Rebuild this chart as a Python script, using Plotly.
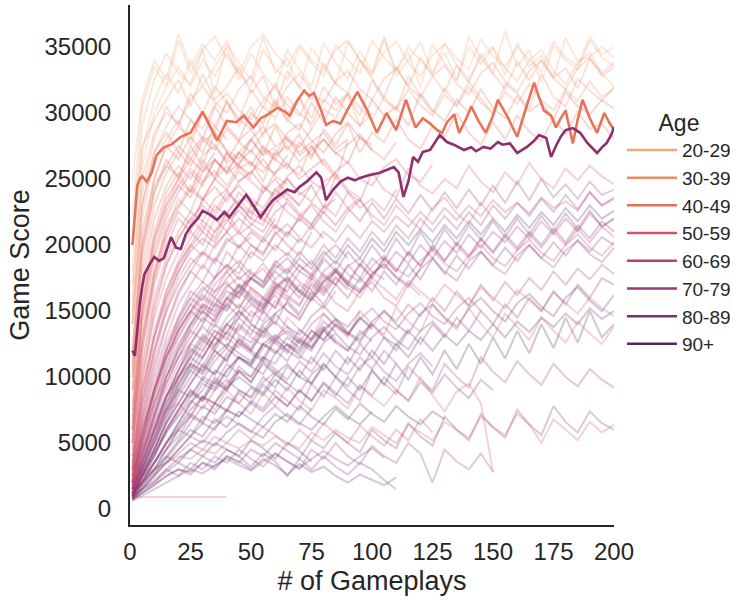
import plotly.graph_objects as go

# ---------------- data ----------------
age_groups = ["20-29", "30-39", "40-49", "50-59", "60-69", "70-79", "80-89", "90+"]
age_colors = ["#efa97b", "#eb8c6b", "#e56e5a", "#d5546a", "#b8406e", "#963872", "#773071", "#4f2a5e"]

# gameplay grid used by the background players (one value every 5 gameplays)
gp_grid = [1] + list(range(5, 201, 5))

scores_20s = [
    [22000, 30500, 33500, 32000, 35500, 33000, 34800, 31500, 35200, 33800, 32500, 35800, 33000, 34200, 31800, 35000, 33500, 32200, 35400, 34000, 32800, 35600, 33200, 34600, 31900, 35200, 33800, 32400, 35800, 34100, 33000, 36200, 33500, 34800, 32300, 35100, 34000, 33300, 35500, 34200, 33600],
    [25000, 31000, 34000, 32500, 36000, 33500, 35200, 34000, 35500, 33000],
    [18000, 27000, 31000, 33000, 31500, 34000, 32000, 33500, 35000, 32500, 34500, 33000, 31800, 34800, 33300, 32000, 35300, 33800, 32600, 34700, 33100, 35800, 32800, 34000, 35400, 33000, 34600, 32500, 35000, 33700, 34900, 32900, 35300, 33500, 34400, 32700, 35700, 33900, 34300, 35000, 34200],
    [16000, 26000, 30000, 32000, 33500, 32000, 34000, 32800, 34500, 33000, 32000, 34800, 33400, 32500, 35000, 33800, 32800, 35200, 34000, 33000, 35500, 34200, 33200, 35000, 34000, 33000, 35300, 34100, 33300, 35600, 34300, 33500, 35000, 34000, 33200, 35400, 34200, 33600, 35800, 34400, 35000],
    [20000, 29000, 32500, 34500, 33000, 32200, 34800, 35800, 34200, 33000, 35000, 36000, 34500, 33500, 35200, 34000, 33200, 34800, 35500, 34000, 33000, 34600, 35400, 33800, 32800, 34400, 35200, 33600, 32600, 34200, 35000, 33400, 32400, 34000, 34800, 33200, 32200, 33800, 34600, 33000, 32000],
]
scores_30s = [
    [15000, 24000, 28000, 30500, 29000, 31500, 30000, 32000, 30800, 29500, 31800, 30400, 32300, 30000, 31200, 29600, 32000, 30700, 31400, 29800, 32500, 31000, 30200, 32800, 31300, 30000, 31900, 30600, 32400, 31100, 29900, 32200, 31500, 30300, 33000, 31200, 30500, 32600, 31700, 30900, 32000],
    [20000, 27500, 29500, 31000, 32500, 30500, 33000, 31000, 32000, 33500, 31500, 32800, 30500, 33200, 32000, 31000, 33800, 32200, 31500, 34000, 32600, 31200, 33500, 32000, 34200, 32800, 31600, 33600, 32300, 34500, 33000, 31800, 33900, 32500, 34000, 32700, 33400, 31900, 34100, 33000, 33800],
    [12000, 22000, 26500, 28000, 29500, 27500, 30000, 28500, 31000, 29000, 30500, 28200, 30800, 29400, 31200, 28800, 30300, 29600, 31500, 29000, 30000],
    [10000, 20000, 25000, 27500, 29000, 28000, 30000, 29000, 30800, 29500, 28800, 30500, 29600, 31200, 30000, 29200, 31000, 30200, 31500, 30400, 29500, 31200, 30300, 31800, 30600, 29800, 31400, 30500, 32000, 30800, 30000, 31600, 30700, 32200, 31000, 30200, 31800, 30900, 32400, 31200, 31800],
    [14000, 23000, 27000, 29000, 30500, 29500, 28800, 30600, 31500, 30200, 29500, 31000, 32000, 30600, 29800, 31500],
    [17000, 25000, 28500, 30000, 29200, 31000, 32000, 30800, 30000, 31800, 32800, 31200, 30400, 32000, 33000, 31600, 30800, 32400, 33200, 31800, 31000, 32600, 33400, 32000, 31200, 32800, 33600, 32200, 31400, 33000, 33800, 32400, 31600, 33200, 34000, 32600, 31800, 33400, 34200, 32800, 33500],
]
scores_40s = [
    [10000, 19000, 24000, 26500, 25000, 27500, 26000, 28500, 27000, 26000, 28000, 26800, 29000, 27200, 28400, 26500, 28800, 27600, 29200, 27000, 28500, 27800, 29500, 28000, 27300, 29000, 28200, 30000, 28500, 27600, 29300, 28000, 29800, 28600, 27900, 29600, 28400, 30100, 28800, 29200, 28000],
    [8000, 16000, 21000, 24000, 25500, 24000, 26500, 25000, 27000, 25800, 26300, 24800, 27200, 26000, 25300, 27500, 26200, 25000, 27800],
    [14000, 23000, 27000, 28500, 27000, 29500, 28000, 30500, 29000, 28000, 30000, 29200, 31000, 29500, 28700, 30800, 29300, 31200, 30000, 29000, 31000, 29800, 30500, 29000, 31500, 30200, 29400, 31000, 30000, 31800, 30400, 29600, 31300, 30100, 30800, 29500, 31600, 30500, 29900, 31000, 30300],
    [7000, 15000, 20000, 23000, 25000, 24000, 26000, 25200, 27000, 26000, 25300, 27200, 26400, 28000, 26800, 27500, 26000],
    [9000, 18000, 23000, 25500, 27000, 26000, 27800, 28500, 27200, 26500, 28000, 29000, 27500],
    [12000, 20000, 24500, 26000, 25200, 27000, 28200, 27600, 26400, 27900, 28800, 27300, 26800, 28500, 29200, 27900, 27000, 28400, 29300, 28100, 27600],
    [6000, 13000, 18000, 21500, 23000, 24500, 23500, 25000, 26000, 24800, 25500, 26500, 25200, 24600],
    [11000, 21000, 25000, 27500, 26500, 28200, 27000, 29000, 28000],
    [5000, 12000, 17500, 21000, 23500, 22500, 24800, 25600, 24500, 26000, 25000],
    [9000, 17000, 22000, 24500, 26000, 25000, 26800, 27500, 26200, 27000, 28000, 26800, 27400, 28200, 27000, 27800, 28500, 27300, 28000],
    [7500, 15500, 20500, 23000, 24500, 25800, 24800, 26400, 25600, 27000, 26200, 25500, 26800, 27500, 26300, 27200, 28000, 26900, 27600, 28400, 27200, 26500, 27800],
    [10500, 19500, 24000, 26000, 27500, 26500, 28000, 27200, 28800, 27800, 27000, 28500, 29200, 28000, 27400, 28800],
]
scores_50s = [
    [5000, 12000, 17000, 20000, 22000, 21000, 23500, 22500, 24000, 23000, 22000, 24500, 23500, 25000, 23800, 24500, 22800, 25200, 24000, 23300, 25500, 24200, 23600, 25800, 24500, 23900, 25000, 24300, 26000, 24800, 24000, 25500, 24600, 26200, 25000, 24300, 25800, 24900, 26000, 25200, 24600],
    [4000, 10000, 14500, 17500, 19500, 21000, 20000, 22000, 21000, 23000, 22000, 21500, 23500, 22500, 21800, 23200, 22400, 24000, 22800, 23500, 22000],
    [2000, 4500, 6000, 7500, 8000, 7000, 8500, 7500, 9000, 8000, 7200, 8800, 7800, 9200, 8200, 7500, 9000, 8400, 7600, 9300, 8500, 7800, 9000, 8200, 10000, 8600, 7400, 8900, 9500, 8000, 2800],
    [1500, 2500, 3000, 3500, 4000, 3800, 4500, 4200, 5000, 4600, 5200, 4800, 5500, 5000, 4600, 5800, 5200, 6000, 5400, 5000, 6200, 5600, 5000, 6400, 5800, 5200, 6600, 6000, 5400, 7000, 6200, 5600, 7200, 6400, 5000, 6800, 6000, 5200, 6600, 5800, 6400],
    [900, 900, 900, 950, 900, 900, 900, 900, 900],
    [3000, 8000, 13000, 16000, 18500, 20000, 21500, 20500, 22500, 21000, 23000, 22000, 21200, 23500, 22400, 21600, 23000, 22200, 24000, 22800, 23500, 22600, 24200],
    [2500, 6000, 9000, 11500, 13000, 14500, 15500, 14800, 16000, 15200, 16500, 15800, 17000, 16200, 15500, 17200, 16400, 17600, 16800, 16000, 17500, 16700, 15900, 17300, 16500, 15700, 17000, 16200, 15400, 16800, 16000, 15200, 16600, 15800, 15000, 16400, 15600, 14800, 16000, 15200, 14600],
    [6000, 14000, 19000, 22000, 24000, 25500, 24500, 26500, 25500, 27000, 26000, 27500, 26500, 25800, 27800, 26800, 28000, 27000, 26200, 28200, 27200],
    [4500, 11000, 16000, 19000, 21000, 22500, 21800, 23500, 24200, 23000, 22400, 24000, 25000, 23800, 23000, 24600],
    [3500, 9000, 13500, 16500, 18500, 20000, 19200, 21000, 22000, 20800, 21500, 22600, 21400, 20600, 22200, 23000, 21800, 21000, 22500, 23400, 22300, 21500, 23000, 22000, 21200, 22800, 23600, 22400, 21600, 23200, 22000],
    [2000, 5000, 8000, 10000, 11500, 12500, 12000, 13500, 13000, 12200, 14000, 13200, 12500, 14500, 13600, 12800, 14800, 13900, 13000, 15000, 14000, 13200, 15300, 14200, 13400, 15500, 14400, 13600, 15200, 14000, 13000, 14800, 13800, 12800, 14500, 13500, 12600, 14200, 13300, 12500, 13800],
    [3000, 9500, 15000, 18500, 20500, 22000, 21000, 23000, 22200, 24000, 23000, 22400, 24200, 23400],
    [2500, 7000, 11500, 15000, 17500, 19000, 18200, 20000, 21000, 19800, 20600],
    [6500, 15000, 20500, 23500, 25000, 26500, 25600, 27000],
    [5500, 13000, 18000, 21000, 22800, 24200, 23400, 25000, 24200, 25600, 24800, 24000, 25500, 26200, 25000, 25800, 26500, 25300],
    [4000, 10500, 15500, 18500, 20500, 22000, 23000, 22200, 23600, 24500, 23500, 22800, 24200, 25000, 24000, 23300, 24800, 25400, 24200, 23600],
    [3200, 8500, 13000, 16500, 18800, 20500, 21800, 21000, 22500, 23400, 22500, 21800, 23200, 24000, 23000],
    [5000, 12500, 17500, 20500, 22500, 21600, 23400, 24400, 23300, 24800, 25600, 24400, 23800, 25200, 26000, 24800, 24200, 25600, 26300, 25000, 24500, 25900, 26500, 25300, 24800, 26100],
    [6000, 14500, 19500, 22500, 24500, 23600, 25500, 26500, 25400, 26200, 27200, 26000, 25400, 26800],
]
scores_60s = [
    [2000, 5000, 8500, 11000, 13500, 15000, 16500, 17500, 18500, 17800, 19500, 18800, 20000, 19200, 20500, 19800, 21000, 20200, 21500, 20500, 21800, 21000, 22200, 21400, 22500, 21600, 22800, 21900, 23000, 22200, 23400, 22500, 23200, 22400, 23600, 22800, 23300, 22600, 24000, 23000, 23500],
    [1500, 3500, 6000, 8000, 10000, 11500, 13000, 12200, 14000, 13500, 15000, 14200, 15800, 15000, 14300, 16000, 15200, 16500],
    [3000, 7000, 11000, 14000, 16500, 18000, 17200, 19000, 18200, 20000, 19000, 20500, 19600, 21000, 20200, 21500, 20500],
    [1000, 2000, 3000, 3500, 4200, 5000, 4500, 5500, 5000, 6000, 5300, 6200, 5600, 4800, 6000, 5200, 6500, 5700, 5000, 6300, 5500, 4800, 6000, 5200, 6800, 5800],
    [2500, 6500, 10000, 13000, 15500, 17000, 18500, 17500, 19500, 18500, 20000, 19200, 21000, 20000, 19200, 21000],
    [1800, 4500, 7500, 10000, 12000, 13500, 15000, 14200, 16000, 15200, 16800, 16000, 15300, 17200, 16400, 17800, 16800, 18200, 17200, 18600, 17600, 19000, 18000, 19400, 18400, 19800, 18800, 20000, 19000, 20400, 19400, 20600, 19600, 20800, 19800, 21000, 20000, 21200, 20200, 21400, 20600],
    [2500, 6000, 9500, 12500, 14500, 16000, 15200, 17000, 18000, 16800, 17500, 18600, 17400],
    [1500, 4000, 6500, 9000, 11000, 12500, 13800, 13000, 14500, 15500, 14600, 15200, 16200, 15000, 14400, 16000, 16800, 15600, 15000, 16500, 17200, 16000, 15400, 17000, 16200],
    [3500, 9000, 13000, 16000, 18000, 19500, 20500, 19800, 21000, 22000, 21200, 20500, 22000],
    [2000, 5500, 9000, 12000, 14000, 15500, 14800, 16500, 17200, 16000, 17500, 18200, 17000, 16500, 18000, 18800, 17600, 17000, 18400, 19000, 18000, 17400],
    [1200, 3500, 6000, 8500, 10500, 12000, 11400, 13000, 12300, 13800, 13000, 12400],
    [2800, 7500, 12000, 15500, 18000, 19800, 21000, 20200, 21800, 22600, 21600, 21000, 22500, 23200, 22200, 21500, 22800, 23500],
    [2200, 6500, 10500, 13800, 16200, 18000, 19400, 18600, 20200, 21000, 20000, 19400, 20800, 21600, 20600],
    [2000, 5500, 9000, 12000, 14200, 16000, 17200, 16400, 18000, 18800, 17800, 17200, 18600, 19400, 18400, 17800, 19200, 20000, 19000],
    [1600, 4500, 7800, 10800, 13000, 14800, 16000, 15300, 16800, 17600, 16700, 16000, 17400, 18200, 17200, 16600, 18000, 18800, 17800, 17200, 18400, 19200, 18200, 17600, 18800, 19600, 18600, 18000, 19200, 20000, 19000, 18400, 19600, 20400, 19400, 18800, 20000, 20800, 19800, 19200, 20200],
]
scores_70s = [
    [1500, 3000, 5000, 7000, 9000, 10500, 12000, 13500, 12800, 14500, 15500, 14800, 16500, 15800, 17000, 16200, 17800, 17000, 18500, 17500, 19000, 18200, 19500, 18600, 20000, 19000, 20300, 19400, 20800, 19800, 21000, 20200, 21400, 20500, 21800, 20800, 22000, 21000, 22400, 21400, 22000],
    [1000, 2000, 3500, 4500, 6000, 7000, 8500, 8000, 9500, 10500, 10000, 11500, 11000, 12500, 12000, 13500, 12800, 14000, 13300, 14500, 13800, 15000, 14200, 15500, 14600, 16000, 15000, 16500, 15400, 17000, 15800, 17200, 16200, 17500, 16600, 18000, 17000, 18200, 17400, 18500, 17800],
    [2000, 4000, 6500, 8500, 10000, 11000, 10500, 12000, 11200, 12800, 12000, 13500, 12600, 11800, 13000, 12300, 13800, 12800, 12000, 13500, 12700],
    [1200, 2500, 3500, 5000, 6000, 5500, 7000, 6500, 7500, 7000, 8200, 7600, 9000, 8200, 7500, 9500, 8500, 10000, 9000, 8200, 10500, 9500, 8700, 10800, 9800, 9000, 11000, 10000, 9200, 11500, 10400, 9600, 11200, 10200, 9400, 11000, 10000, 9300, 10600, 9800, 9200],
    [800, 1500, 2200, 3000, 2500, 3500, 3000, 4000, 3500, 4500, 3800, 3200, 4200, 3600, 3000, 4500, 3800, 5000, 4000, 3400, 4800, 4000, 3500, 5000, 4200, 2000, 4500, 3600, 3000, 4200, 2800],
    [2500, 6000, 9000, 11500, 13500, 15000, 16200, 15500, 17000, 16300, 18000, 17200, 18800, 18000, 19500, 18500, 20000, 19000, 20500, 19500, 21000, 20000, 21500, 20500, 22000, 21000, 22200, 21200, 22500, 21500, 23000, 22000, 23200, 22200, 23500, 22500, 23800, 22700, 24000, 23000, 23600],
    [1500, 3500, 5500, 7500, 9000, 8500, 10000, 9500, 11000, 10200],
    [3000, 8000, 12000, 15000, 17000, 18500, 19500, 18800, 20500, 19800, 21000, 20200, 21500, 20800, 22000, 21200, 22500, 21500, 22800, 21800, 23200, 22000, 23500, 22400, 23800, 22600, 24000, 22800, 24200, 23000, 24500, 23200, 24800, 23400, 25000, 23600, 24600, 23500, 24800, 23800, 24200],
    [1000, 2500, 4500, 6500, 8000, 9500, 11000, 10200, 11800, 12800, 12000, 11400, 13000, 13800, 12800, 12200, 13500, 14300, 13300, 12600, 14000],
    [1800, 4500, 7000, 9500, 11500, 13000, 14500, 13800, 15500, 16500, 15600, 15000, 16800, 17500, 16500, 15800, 17200, 18000, 17000, 16400, 17800, 18500, 17500, 16800, 18200, 19000, 18000, 17300, 18800, 19500, 18400, 17800, 19200, 20000, 19000, 18300, 19600, 20300, 19300, 18700, 19800],
    [1200, 2800, 4200, 5800, 7000, 8200, 7600, 9000, 9800, 9000, 8400, 9600, 10400, 9500, 8800, 10200, 11000, 10000, 9300, 10800, 11500, 10400, 9700, 11000, 11800, 10800],
    [800, 1500, 2500, 3500, 4500, 5500, 5000, 6200, 7000, 6400, 5800, 7000, 7800, 7000, 6400, 7600],
    [1500, 4000, 7000, 9500, 11500, 13500, 12800, 14500, 15500, 14600, 16000, 15200, 16800, 16000, 15400, 17000, 16200, 17500, 16600],
    [900, 2200, 4000, 6000, 7500, 9000, 8400, 10000, 9200, 10800, 10000, 11500, 10600, 9800, 11200, 10400, 11800, 10800, 10200, 11500, 10600, 12000, 11000],
    [2200, 5500, 9000, 12000, 14500, 16500, 15800, 17500, 18500, 17400, 18200],
    [1500, 4000, 7000, 10000, 12000, 13800, 15000, 14200, 15800, 16800, 15800, 15200, 16600, 17400, 16400, 15800, 17200, 18000, 17000, 16400, 17600],
    [1800, 5000, 8500, 11500, 13800, 15500, 16800, 16000, 17500, 18400, 17400, 16800, 18200, 19000, 18000, 17400, 18800],
    [1300, 3200, 5500, 7800, 9800, 11500, 10800, 12400, 13400, 12600, 12000, 13400, 14200, 13200, 12600, 14000, 14800, 13800, 13200, 14400, 15200, 14200, 13600, 14800, 15600, 14600, 14000, 15200, 16000, 15000],
]
scores_80s = [
    [1500, 3000, 5000, 7500, 9500, 11000, 12500, 14000, 13200, 15000, 14200, 16000, 15200, 17000, 16000, 17500, 16500, 18000, 17000, 18500, 17500, 19000, 18000, 19500, 18400, 20000, 18800, 20200, 19200, 20500, 19500, 20800, 19800, 21000, 20000, 21300, 20200, 21500, 20500, 21800, 21000],
    [1000, 2000, 3000, 4500, 5500, 7000, 6500, 8000, 7500, 9000, 8500, 10000, 9200, 10800, 10000, 11500, 10500, 12000, 11000, 12500, 11500, 13000, 12000, 13500, 12500, 14000, 13000, 14500, 13500, 15000, 14000, 15500, 14500, 16000, 15000, 16500, 15500, 17000, 16000, 17500, 17000],
    [1200, 2200, 3500, 5000, 6500, 8000, 9500, 9000, 10500, 11500, 11000, 12500, 12000, 11200, 12800, 12200, 13500, 12600],
    [800, 1500, 2000, 2800, 3500, 3000, 4000, 3500, 4500, 4000, 3200, 4200, 3600, 2500, 3800, 3000, 4000, 3200, 2600, 3500, 3000, 2200, 1500],
    [2000, 5000, 8000, 10500, 12500, 14000, 15500, 15000, 16500, 16000, 17500, 16800, 18000, 17200, 18500, 17600, 19000, 18000, 19500, 18400, 20000, 18800, 20500, 19200, 21000, 19600, 21200, 20000, 21500, 20400, 21800, 20600, 22000, 20800, 22200, 21000, 22400, 21200, 22600, 21400, 22000],
    [700, 1200, 1800, 2500, 3000, 2600, 3500, 3000, 4000, 3500, 4500, 4000, 5000, 4400, 3800, 5200, 4600, 5800, 5000, 4300, 6000, 5200, 4600, 6500, 5500, 4800, 7000, 6000, 5200, 7200, 6200, 5400, 7500, 6400, 5600, 7800, 6600, 5800, 7400, 6500, 6000],
    [1000, 2500, 4000, 6000, 7500, 9000, 8200, 9800, 9000, 10500, 9600, 11200, 10400],
    [1200, 2800, 4500, 6500, 8500, 10000, 11500, 13000, 12200, 14000, 13200, 15000, 14000, 15800, 14800, 16500, 15500, 17000, 16000, 17500, 16500, 18000, 17000, 18500, 17400, 19000, 17800, 19200, 18200, 19500, 18500, 19800, 18800, 20000, 19000, 20200, 19200, 20400, 19500, 20600, 20000],
    [1000, 2500, 4000, 5800, 7200, 8500, 9800, 9200, 10500, 11500, 10800, 10200, 11800, 12500, 11600, 11000, 12600, 13300, 12300, 11700, 13000, 13800, 12800, 12100, 13500, 14200, 13200],
    [1500, 3500, 6000, 8500, 10000, 11500, 12800, 12000, 13500, 14500, 13600, 13000, 14600],
    [600, 1000, 1500, 2000, 2500, 3000, 2700, 3300, 3800, 3300, 2900, 3600, 4200, 3600, 3100, 3800, 4400, 3800, 3300, 4000, 4600, 3900],
    [1300, 3000, 5200, 7500, 9500, 11000, 10400, 12000, 11200, 13000, 12200, 13800, 12800, 12000, 13600, 12800, 14200, 13400],
    [800, 1800, 3000, 4500, 6000, 7200, 6600, 8000, 7400, 8800, 8000, 9400, 8600, 7800, 9000, 8200, 9600, 8800, 8000, 9400, 8600, 10000, 9000, 8200, 9600, 8800, 10200, 9200, 8400, 9800, 9000],
    [2000, 5500, 9000, 11500, 13500, 15000, 14200, 16000, 15200, 17000, 16200, 15500, 17200, 16400],
    [1200, 3500, 6000, 8500, 10500, 12200, 11500, 13000, 14000, 13200, 12600, 14000, 14800, 13800, 13200, 14600, 15400, 14400, 13800, 15000],
    [900, 2500, 4500, 6800, 8800, 10500, 9800, 11200, 12200, 11400, 10800, 12200, 13000, 12000, 11400, 12800, 13600, 12600, 12000, 13200, 14000, 13000, 12400, 13600],
    [1600, 4200, 7200, 10000, 12200, 14000, 15300, 14600, 16000, 17000, 16000, 15400, 16800, 17600, 16600, 16000, 17400, 18200, 17200, 16600, 17800, 18600, 17600, 17000, 18200],
]
scores_90s = [
    [1000, 2000, 3500, 5000, 6500, 8000, 9000, 10500, 10000, 11500, 11000, 12500, 11800, 13000, 12200, 13500, 12800, 14000, 13200, 14500, 13600],
    [800, 1500, 2500, 3500, 4500, 5500, 6500, 6000, 7500, 7000, 8000, 7400, 8500, 7800, 9000, 8200, 9500, 8600, 10000, 9000, 10500, 9400, 11000, 9800, 11500, 10200, 12000, 10600, 12500, 11000, 13000, 11400, 13500, 11800, 14000, 12200, 14500, 12600, 15000, 13000, 14000],
    [1500, 3500, 6000, 8500, 10500, 12500, 14000, 15500, 15000, 16500, 17500, 17000, 18500, 17800, 19000, 18200, 19500, 18600, 20000, 19000, 20500, 19500, 21000, 20000, 21200, 20200, 21500, 20500, 21800, 20800, 22000, 21000, 22300, 21300, 22500, 21500, 22800, 21800, 23000, 22000, 22600],
    [1200, 2000, 3000, 4000, 3500, 4500, 4000, 5000, 4500, 4000, 5200, 4600, 3800, 5000, 4400, 3600],
    [900, 1800, 2800, 4000, 5200, 6500, 7800, 7200, 8500, 8000, 9200, 8600, 9800, 9000, 10500, 9500, 11000, 10000, 11500, 10500, 12000, 11000, 12500, 11500, 13000, 12000, 13200, 12400, 13500, 12800, 14000, 13000, 14200, 13400, 14500, 13800, 14800, 14000, 15200, 14400, 15000],
    [700, 1200, 1800, 2500, 3000, 2800, 3500, 3200, 4000, 3600, 3000, 3800, 3300, 2600, 3400, 2800, 3200, 2500, 2000, 2600, 2200, 1800, 2400],
    [900, 2000, 3500, 5000, 6200, 7500, 8500, 8000, 9200, 10000, 9300, 8800, 10200, 11000, 10000, 9500, 10800],
    [700, 1300, 2000, 3000, 3800, 4500, 5200, 4800, 5800, 6500, 5900, 5400, 6600, 7200, 6500, 6000, 7000, 7800, 7000, 6400, 7400],
    [1100, 2500, 4500, 6500, 8000, 9500, 10800, 10200, 11500, 12500, 11800, 11200, 12800, 13500, 12600, 12000, 13600, 14400, 13400, 12800, 14200, 15000, 14000, 13300, 14800, 15500, 14500, 13800, 15200, 16000, 15000, 14200, 15600, 16300, 15300, 14600, 16000, 16800, 15800, 15000, 16200],
    [1000, 2500, 4200, 6000, 7500, 8800, 8200, 9600, 9000, 10400, 9600, 11000, 10200, 9500],
    [800, 1600, 2600, 3800, 5000, 6000, 5500, 6800, 6200, 7400, 6800, 6200, 7200, 6600, 7800, 7000, 6400, 7600, 6800, 8000, 7200, 6600, 7800, 7000, 6400, 7400, 6800],
    [1000, 3000, 5500, 8000, 10000, 11800, 13200, 12400, 14000, 15000, 14000, 13400, 14800, 15600, 14600],
    [1100, 2800, 5000, 7200, 9200, 10800, 10200, 11600, 12500, 11800, 11200, 12500, 13200, 12400, 11800, 13000, 13800],
]

# two highlighted players
orange_x = [1, 2, 3, 4, 5, 7, 9, 11, 14, 17, 21, 25, 28, 30, 33, 36, 40, 44, 47, 51,
            54, 57, 61, 64, 66, 69, 72, 74, 76, 79, 81, 84, 87, 90, 94, 98, 102, 106, 110, 114,
            118, 121, 124, 127, 129, 131, 134, 136, 139, 141, 144, 147, 150, 152, 156, 160, 163, 167, 169, 171,
            174, 176, 178, 180, 183, 185, 187, 190, 193, 196, 198, 200]
orange_y = [20000, 22500, 24500, 25000, 25200, 24800, 25500, 26800, 27400, 27600,
            28200, 28500, 29400, 30100, 29000, 27900, 29400, 29300, 29800, 28900,
            29600, 29900, 30400, 30100, 29800, 30900, 31700, 31300, 31500, 30200,
            29100, 29400, 29200, 30300, 31600, 30200, 28500, 30000, 28700, 31000,
            28900, 29600, 29200, 28700, 28500, 29300, 29900, 28500, 29600, 30500,
            29400, 28500, 29800, 31000, 29700, 28200, 30000, 32300, 31200, 30200,
            29800, 28900, 29600, 30200, 27700, 29500, 31000, 29600, 28500, 30000,
            29300, 28700]
purple_x = [1, 2, 3, 4, 5, 6, 8, 10, 12, 14, 17, 19, 21, 23, 25, 28, 30, 33, 36, 39,
            41, 44, 48, 51, 54, 57, 59, 62, 65, 68, 70, 73, 77, 79, 81, 84, 87, 90, 93, 95,
            99, 103, 106, 109, 111, 113, 115, 117, 119, 121, 124, 128, 131, 134, 138, 141, 143, 146, 149, 152,
            154, 157, 160, 162, 164, 167, 169, 172, 174, 176, 178, 180, 183, 186, 189, 193, 195, 197, 199, 200]
purple_y = [12000, 11600, 13500, 15500, 16800, 17800, 18500, 19100, 18800, 19000,
            20600, 19800, 19700, 20800, 21400, 22000, 22600, 22300, 21900, 22500,
            22100, 22800, 23800, 23000, 22100, 22900, 23400, 23800, 24200, 24000,
            24400, 24800, 25500, 25100, 23400, 24200, 24800, 25100, 24900, 25080,
            25300, 25450, 25700, 25900, 25500, 23640, 24800, 26670, 26300, 27050,
            27200, 28330, 27800, 27580, 27200, 27400, 27100, 27430, 27300, 27800,
            27600, 27700, 26970, 27200, 27430, 27900, 28330, 28110, 26670, 27500,
            28200, 28710, 28860, 28500, 27730, 26970, 27400, 27730, 28400, 28940]

x_ticks = [0, 25, 50, 75, 100, 125, 150, 175, 200]
y_ticks = [0, 5000, 10000, 15000, 20000, 25000, 30000, 35000]


def rgba(hex_color, a):
    h = hex_color.lstrip("#")
    r, g, b = int(h[0:2], 16), int(h[2:4], 16), int(h[4:6], 16)
    return f"rgba({r},{g},{b},{a})"


fig = go.Figure()

groups = [scores_20s, scores_30s, scores_40s, scores_50s, scores_60s, scores_70s, scores_80s, scores_90s]
order = [7, 6, 5, 4, 3, 2, 1, 0]
for gi in order:
    for series in groups[gi]:
        fig.add_trace(go.Scatter(
            x=gp_grid[:len(series)], y=series, mode="lines",
            line=dict(color=rgba(age_colors[gi], 0.26), width=2),
            showlegend=False, hoverinfo="skip"))

fig.add_trace(go.Scatter(x=orange_x, y=orange_y, mode="lines",
                         line=dict(color="#e8735a", width=2.6), showlegend=False))
fig.add_trace(go.Scatter(x=purple_x, y=purple_y, mode="lines",
                         line=dict(color="#8f2f6c", width=2.6), showlegend=False))

for name, col in zip(age_groups, age_colors):
    fig.add_trace(go.Scatter(x=[None], y=[None], mode="lines", name=name,
                             line=dict(color=col, width=2.5)))

font_family = "Liberation Sans, Arial, sans-serif"
fig.update_layout(
    width=730, height=600,
    margin=dict(l=130, r=116, t=5, b=75, autoexpand=False),
    paper_bgcolor="white", plot_bgcolor="white",
    font=dict(family=font_family, color="#262626"),
    showlegend=True,
    legend=dict(
        title=dict(text="Age", font=dict(size=23), side="top center"),
        font=dict(size=19),
        itemwidth=50,
        x=1.0165, xanchor="left", y=0.815, yanchor="top",
        bgcolor="rgba(0,0,0,0)", borderwidth=0,
    ),
    xaxis=dict(
        range=[0, 200], tickvals=x_ticks, ticktext=[str(v) for v in x_ticks],
        showgrid=False, zeroline=False, showline=True, linecolor="#262626", linewidth=2,
        ticks="", tickfont=dict(size=24), ticklabelstandoff=4, automargin=False,
        title=dict(text="# of Gameplays", font=dict(size=27), standoff=7),
    ),
    yaxis=dict(
        range=[-1212, 38182], tickvals=y_ticks, ticktext=[str(v) for v in y_ticks],
        showgrid=False, zeroline=False, showline=True, linecolor="#262626", linewidth=2,
        ticks="", tickfont=dict(size=24), ticklabelstandoff=12, automargin=False,
        title=dict(text="Game Score", font=dict(size=27), standoff=7),
    ),
)

fig.write_html("out.html", config={"displayModeBar": False},
               post_script="document.body.style.margin='0px';document.body.style.padding='0px';")
